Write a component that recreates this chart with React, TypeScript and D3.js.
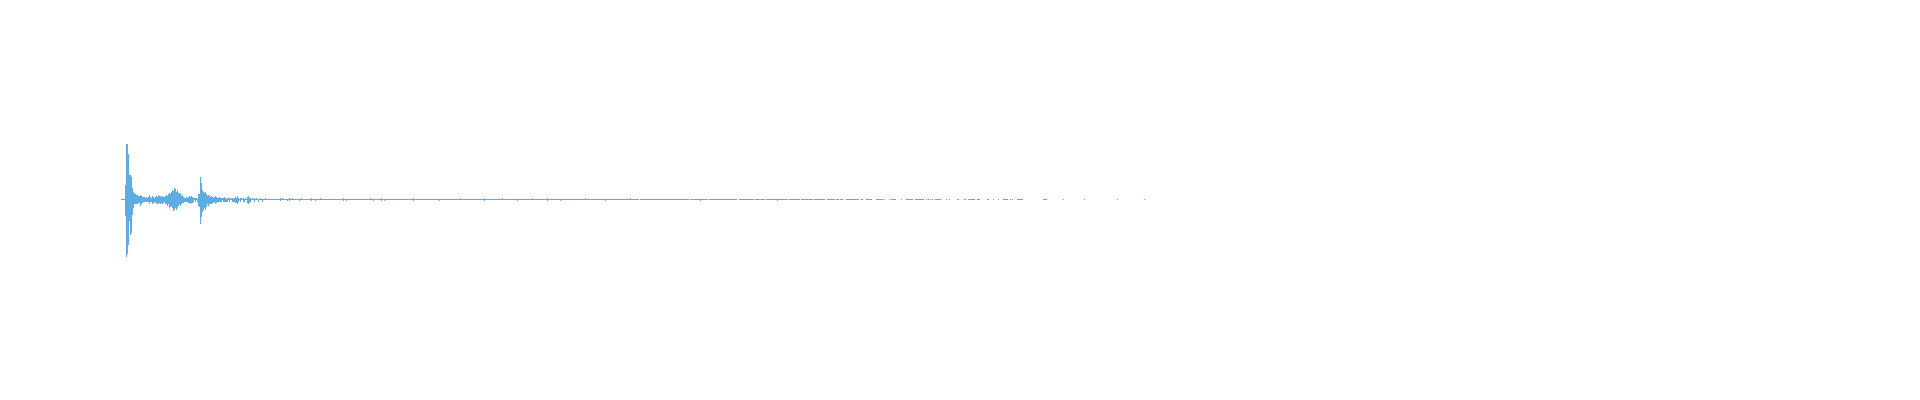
import React from "react";
import * as d3 from "d3";

// Waveform envelope, amplitude in percent of full scale, one value per sample column.
// Attack section: samples 0..145
const attackUp: number[] = [
  0.25, 0.25, 0.25, 0.25, 7.5, 28, 28, 22.5, 12.5, 12, 11.5, 6, 4, 3.5, 3, 2.5, 2.5, 2, 2, 2.5,
  2, 1.5, 1.5, 1.5, 1, 1.5, 1, 1.5, 2.5, 1.5, 1, 2, 1.5, 1, 1.5, 2, 1.5, 2.5, 2, 2,
  1.5, 2, 1.5, 1.5, 2, 2.5, 2, 3, 3.5, 3, 4, 5, 4.5, 6, 5.5, 4, 5, 3.5, 3, 3.5,
  2, 2.5, 1.5, 1, 1, 1.5, 1, 1.5, 2, 1.5, 2, 1.5, 1, 1, 1, 1, 0.5, 3, 3, 11.5,
  8, 5, 4, 3.5, 4, 3, 2, 2.5, 2, 1.5, 2, 1.5, 1, 1.5, 2, 1.5, 1, 1, 1.5, 1,
  1, 1, 1, 1.5, 1, 0.5, 1, 1, 1, 0.5, 1, 1, 0.5, 1, 1.5, 1, 2, 1, 0.5, 1,
  1, 0.5, 1, 0.5, 1, 0.5, 1.5, 2, 1, 1, 0.5, 1, 0.5, 1, 0.5, 1, 0.5, 0.5, 0.5, 1,
  0.5, 0.5, 0.5, 0.5, 1, 0.5,
];
const attackDown: number[] = [
  0.25, 0.25, 0.25, 0.25, 8, 28.5, 27, 22.5, 11, 17.5, 17, 7.5, 4.5, 2.5, 2.5, 2, 2.5, 1.5, 1.5, 3,
  2.5, 1.5, 1, 1, 1, 1, 1, 1, 2, 1, 1, 2, 1.5, 1, 1.5, 1.5, 2, 2, 1.5, 2,
  1.5, 2, 1.5, 1, 2, 2.5, 3, 2.5, 4, 3.5, 3, 4.5, 5.5, 5, 4.5, 5, 4, 3, 2.5, 3,
  2, 1.5, 1.5, 1, 1, 1, 1, 1.5, 1.5, 2, 1.5, 1.5, 1, 0.5, 1, 0.5, 1, 3, 3.5, 12,
  9, 6, 5, 4.5, 5, 3.5, 2.5, 3, 2, 2.5, 2, 1.5, 1.5, 1, 2, 1.5, 1, 1, 1, 1,
  1, 0.5, 1, 1, 1, 1, 1, 0.5, 1, 0.5, 0.5, 1, 1, 1, 1.5, 1.5, 2, 1, 0.5, 1,
  0.5, 0.5, 1, 1, 0.5, 0.5, 1.5, 2, 1.5, 1, 0.5, 0.5, 0.5, 1, 0.5, 0.5, 0.5, 1, 0.5, 0.5,
  0.5, 1, 0.5, 0.5, 0.5, 0.5,
];

// Tail: runs of near-silent signal [startSample, endSample)
const tailRuns: [number, number][] = [
  [146, 518], [519, 568], [569, 587], [588, 616], [618, 633], [634, 644], [645, 656], [657, 667],
  [668, 679], [680, 692], [693, 704], [706, 714], [715, 718], [719, 722], [725, 738], [740, 742],
  [745, 751], [755, 762], [763, 764], [768, 769], [770, 775], [780, 781], [785, 792], [794, 803],
  [805, 806], [807, 808], [809, 810], [811, 812], [814, 820], [825, 826], [828, 829], [836, 838],
  [843, 845], [847, 854], [856, 859], [866, 868], [872, 873], [877, 878], [882, 887], [889, 890],
  [891, 892], [896, 902], [922, 926], [942, 943], [963, 964], [996, 997], [1023, 1024],
];
const tailLevel = 0.25;

// Tail: isolated small peaks [sample, up, down]
const tailPeaks: [number, number, number][] = [
  [159, 0.75, 0.75], [161, 0.75, 0.5], [166, 0.5, 0.75], [168, 0.75, 0.75], [171, 0.75, 0.5],
  [178, 0.5, 0.75], [180, 0.75, 0.5], [190, 0.75, 0.75], [194, 0.5, 0.75], [199, 0.75, 0.5],
  [210, 0.5, 0.5], [222, 0.75, 0.75], [225, 0.5, 0.75], [249, 0.75, 0.5], [252, 0.5, 0.75],
  [260, 0.75, 0.75], [263, 0.5, 0.75], [292, 0.75, 0.75], [295, 0.5, 0.5], [318, 0.5, 0.75],
  [339, 0.75, 0.5], [363, 0.75, 0.75], [381, 0.75, 0.5], [396, 0.5, 0.75], [411, 0.75, 0.5],
  [426, 0.75, 0.75], [439, 0.5, 0.75], [464, 0.75, 0.5], [484, 0.5, 0.75], [509, 0.75, 0.5],
  [579, 0.25, 0.75], [656, 0.25, 0.75],
];

const SAMPLES = 1024;
const COLOR = "#5dade2";

export default function App() {
  const width = 1920;
  const height = 400;
  const x = d3.scaleLinear().domain([0, SAMPLES]).range([121, 121 + SAMPLES]);
  const y = d3.scaleLinear().domain([-100, 100]).range([399.5, -0.5]);

  const bar = (i: number, w: number, up: number, down: number, key: string) => {
    const top = Math.round(y(up));
    const bot = Math.max(top + 1, Math.round(y(-down)));
    return <rect key={key} x={x(i)} y={top} width={w} height={bot - top} fill={COLOR} />;
  };

  return (
    <svg
      width={width}
      height={height}
      style={{ position: "absolute", left: 0, top: 0, background: "#fff" }}
      shapeRendering="crispEdges"
    >
      <g>
        {tailRuns.map(([s, e], k) => bar(s, x(e) - x(s), tailLevel, tailLevel, `r${k}`))}
        {tailPeaks.map(([s, u, d], k) => bar(s, 1, u, d, `p${k}`))}
        {attackUp.map((u, i) => bar(i, 1, u, attackDown[i], `a${i}`))}
      </g>
    </svg>
  );
}
